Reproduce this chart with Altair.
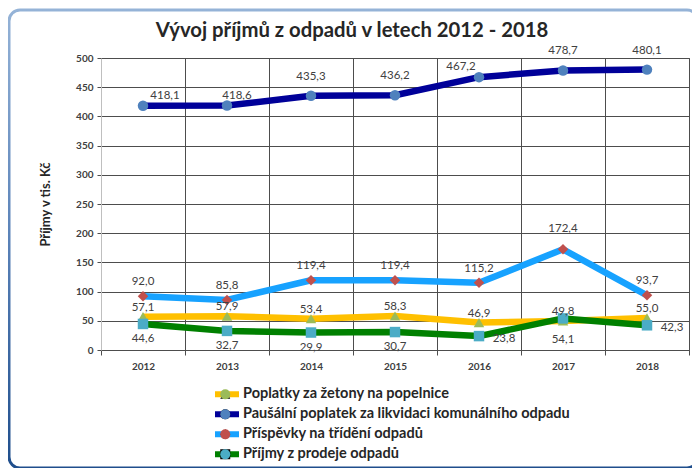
import altair as alt
import pandas as pd

years = [2012, 2013, 2014, 2015, 2016, 2017, 2018]
series_names = [
    "Poplatky za žetony na popelnice",
    "Paušální poplatek za likvidaci komunálního odpadu",
    "Příspěvky na třídění odpadů",
    "Příjmy z prodeje odpadů",
]
poplatky = [57.1, 57.9, 53.4, 58.3, 46.9, 49.8, 55.0]
pausalni = [418.1, 418.6, 435.3, 436.2, 467.2, 478.7, 480.1]
prispevky = [92.0, 85.8, 119.4, 119.4, 115.2, 172.4, 93.7]
prijmy = [44.6, 32.7, 29.9, 30.7, 23.8, 54.1, 42.3]
y_ticks = [0, 50, 100, 150, 200, 250, 300, 350, 400, 450, 500]

line_colors = ["#FFC000", "#000099", "#17A2FF", "#008000"]
marker_colors = ["#9BBB59", "#4F81BD", "#C0504D", "#4BACC6"]
marker_shapes = ["triangle-up", "circle", "diamond", "square"]

rows = []
for name, vals in zip(series_names, [poplatky, pausalni, prispevky, prijmy]):
    for yr, v in zip(years, vals):
        rows.append({"year": yr, "series": name, "marker": name, "value": v})
df = pd.DataFrame(rows)

FONT = "Lato"
GRID = "#4D4D4D"
TXT = "#404040"

x_enc = alt.X(
    "year:O",
    scale=alt.Scale(type="band", paddingInner=0, paddingOuter=0),
    axis=alt.Axis(
        title=None, labelAngle=0, labelFont=FONT, labelFontWeight="bold",
        labelFontSize=10, labelColor=TXT, grid=True, gridColor=GRID,
        tickBand="extent", tickSize=5, tickColor=GRID, domainColor=GRID,
        labelPadding=6,
    ),
)
y_enc = alt.Y(
    "value:Q",
    scale=alt.Scale(domain=[0, 500], nice=False),
    axis=alt.Axis(
        title="Příjmy v tis. Kč", values=y_ticks, grid=True, gridColor=GRID,
        tickSize=4, tickColor=GRID, domainColor="#BFBFBF",
        labelFont=FONT, labelFontWeight="bold", labelFontSize=10,
        labelColor=TXT, labelPadding=4,
        titleFont=FONT, titleFontSize=13, titleFontWeight="bold",
        titleColor="#262626", titleX=-49, titleY=146,
    ),
)

base = alt.Chart(df)

label_expr = "replace(format(datum.value, '.1f'), '.', ',')"

lines = base.mark_line(strokeWidth=6.5, strokeJoin="round").encode(
    x=x_enc,
    y=y_enc,
    color=alt.Color(
        "series:N",
        sort=series_names,
        scale=alt.Scale(range=line_colors),
        legend=alt.Legend(
            title=None, orient="none", legendX=114, legendY=326.5,
            direction="vertical", symbolType="M-2.5,0L2.5,0", symbolSize=144,
            symbolStrokeWidth=6, labelFont=FONT, labelFontSize=14.5,
            labelFontWeight="bold", labelColor="#262626", labelOffset=10,
            clipHeight=19.7, rowPadding=0, labelLimit=600, zindex=1,
        ),
    ),
    detail="series:N",
)

pt_legend = alt.Legend(
    title=None, orient="none", legendX=117, legendY=326.5,
    direction="vertical", symbolSize=100, symbolStrokeWidth=0,
    labelFont=FONT, labelFontSize=14.5, labelFontWeight="bold",
    labelExpr="''", clipHeight=19.7, rowPadding=0, zindex=5,
)

points = base.mark_point(filled=True, size=110, opacity=1).encode(
    x=x_enc,
    y=y_enc,
    fill=alt.Fill(
        "marker:N",
        sort=series_names,
        scale=alt.Scale(range=marker_colors),
        legend=pt_legend,
    ),
    shape=alt.Shape(
        "marker:N",
        sort=series_names,
        scale=alt.Scale(range=marker_shapes),
        legend=pt_legend,
    ),
)


def labels(series_idx, yrs, dx, dy):
    return (
        base.transform_filter(
            alt.FieldEqualPredicate(field="series", equal=series_names[series_idx])
        )
        .transform_filter(alt.FieldOneOfPredicate(field="year", oneOf=yrs))
        .transform_calculate(label=label_expr)
        .mark_text(font=FONT, fontSize=11.5, color=TXT, dx=dx, dy=dy,
                   align="center", baseline="middle")
        .encode(x=x_enc, y=y_enc, text="label:N")
    )


text_layers = [
    labels(0, years, 0, -9),
    labels(1, [2014, 2015, 2017, 2018], 0, -19),
    labels(1, [2012], 22, -10),
    labels(1, [2013], 10, -10),
    labels(1, [2016], -18, -10),
    labels(2, [2012, 2013, 2014, 2015, 2016, 2018], 0, -14),
    labels(2, [2017], 0, -20),
    labels(3, [2012, 2013, 2014, 2015], 0, 15),
    labels(3, [2017], 0, 22),
    labels(3, [2016, 2018], 25, 3),
]

frame = alt.Chart(alt.Data(values=[{"f": 1}])).mark_rect(
    fill="transparent",
    strokeWidth=3,
    cornerRadius=11,
    stroke=alt.LinearGradient(
        gradient="linear",
        stops=[
            alt.GradientStop(color="#95B3D7", offset=0),
            alt.GradientStop(color="#5A82B8", offset=0.5),
            alt.GradientStop(color="#1F4E8C", offset=1),
        ],
        x1=0, x2=0, y1=0, y2=1,
    ),
).encode(
    x=alt.value(-92), x2=alt.value(597), y=alt.value(-48), y2=alt.value(410)
)

chart = alt.layer(frame, lines, points, *text_layers).properties(
    width=588,
    height=292,
    title=alt.TitleParams(
        "Vývoj příjmů z odpadů v letech 2012 - 2018",
        font=FONT, fontSize=20.3, fontWeight="bold", color="#262626",
        anchor="middle", dx=-43, offset=-33, frame="group",
    ),
    autosize=alt.AutoSizeParams(type="none"),
    padding={"left": 93, "top": 50, "right": 3, "bottom": 118},
).configure_view(stroke=GRID).resolve_scale(color="independent")

chart.save("out.html", embed_options={"renderer": "svg", "actions": False})
